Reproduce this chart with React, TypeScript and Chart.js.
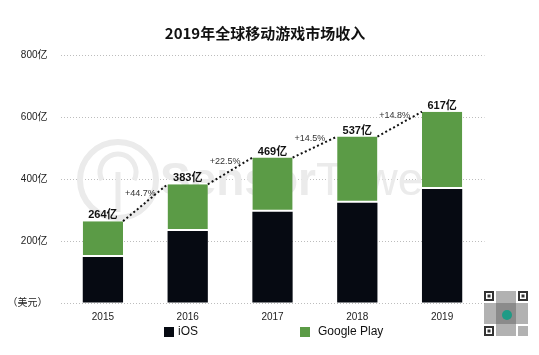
import React, { useEffect, useRef } from "react";
import { Chart, registerables } from "chart.js";

Chart.register(...registerables);

const categories = ["2015", "2016", "2017", "2018", "2019"];
const iosValues = [148, 232, 294, 323, 368];
const googlePlayValues = [116, 151, 175, 214, 249];
const totalLabels = ["264亿", "383亿", "469亿", "537亿", "617亿"];
const growthLabels = ["+44.7%", "+22.5%", "+14.5%", "+14.8%"];
const yTickLabels: Record<number, string> = { 0: "（美元）", 200: "200亿", 400: "400亿", 600: "600亿", 800: "800亿" };
const titleText = "2019年全球移动游戏市场收入";

const FONT = '"Liberation Sans", Arial, "Noto Sans CJK SC", sans-serif';
const CJK = '"Noto Sans CJK SC", "Liberation Sans", sans-serif';
const BLACK = "#060a12";
const GREEN = "#5b9b46";

const decorPlugin = {
  id: "decor",
  beforeDatasetsDraw(chart: any) {
    const ctx = chart.ctx;
    ctx.save();
    // watermark
    ctx.strokeStyle = "#ebebeb";
    ctx.lineWidth = 6;
    ctx.beginPath();
    ctx.arc(118, 180, 38, 0, Math.PI * 2);
    ctx.stroke();
    ctx.lineWidth = 5;
    ctx.beginPath();
    ctx.arc(118, 172, 18, Math.PI * 0.85, Math.PI * 2.15);
    ctx.stroke();
    ctx.beginPath();
    ctx.moveTo(118, 172);
    ctx.lineTo(118, 212);
    ctx.stroke();
    ctx.fillStyle = "#ebebeb";
    ctx.textBaseline = "middle";
    ctx.textAlign = "left";
    ctx.font = 'bold 46px "Liberation Sans", Arial, sans-serif';
    ctx.fillText("Sensor", 160, 182);
    const w = ctx.measureText("Sensor").width;
    ctx.font = '46px "Liberation Sans", Arial, sans-serif';
    ctx.fillText("Tower", 160 + w, 182);
    ctx.restore();
  },
  afterDraw(chart: any) {
    const ctx = chart.ctx;
    const yScale = chart.scales.y;
    const metaG = chart.getDatasetMeta(1);
    ctx.save();
    // title
    ctx.fillStyle = "#111";
    ctx.font = "bold 15px " + CJK;
    ctx.textAlign = "center";
    ctx.textBaseline = "middle";
    ctx.fillText(titleText, 265, 33);

    // total labels
    ctx.font = "bold 11px " + FONT;
    ctx.fillStyle = "#111";
    ctx.textBaseline = "alphabetic";
    metaG.data.forEach((bar: any, i: number) => {
      ctx.fillText(totalLabels[i], bar.x, bar.y - 3);
    });

    // growth lines
    ctx.strokeStyle = "#111";
    ctx.lineWidth = 2;
    for (let i = 0; i < metaG.data.length - 1; i++) {
      const a = metaG.data[i];
      const b = metaG.data[i + 1];
      const x1 = a.x + a.width / 2;
      const y1 = yScale.getPixelForValue(iosValues[i] + googlePlayValues[i]);
      const x2 = b.x - b.width / 2;
      const y2 = yScale.getPixelForValue(iosValues[i + 1] + googlePlayValues[i + 1]);
      ctx.setLineDash([2, 2.5]);
      ctx.beginPath();
      ctx.moveTo(x1, y1);
      ctx.lineTo(x2, y2);
      ctx.stroke();
      ctx.setLineDash([]);
      ctx.fillStyle = "#333";
      ctx.font = "9px " + FONT;
      ctx.textBaseline = "middle";
      ctx.textAlign = "center";
      ctx.fillText(growthLabels[i], (x1 + x2) / 2 - 5, (y1 + y2) / 2 - 9);
    }

    // legend
    const items = [
      { label: chart.data.datasets[0].label, color: BLACK, x: 164, gap: 14 },
      { label: chart.data.datasets[1].label, color: GREEN, x: 300, gap: 18 },
    ];
    ctx.font = "12px " + FONT;
    ctx.textAlign = "left";
    ctx.textBaseline = "middle";
    items.forEach((it) => {
      ctx.fillStyle = it.color;
      ctx.fillRect(it.x, 327, 10, 10);
      ctx.fillStyle = "#111";
      ctx.fillText(it.label, it.x + it.gap, 332);
    });

    // QR placeholder
    const qx = 484, qy = 291;
    ctx.fillStyle = "#333";
    const finder = (x: number, y: number) => {
      ctx.fillStyle = "#333";
      ctx.fillRect(x, y, 10, 10);
      ctx.fillStyle = "#fff";
      ctx.fillRect(x + 2, y + 2, 6, 6);
      ctx.fillStyle = "#333";
      ctx.fillRect(x + 3.5, y + 3.5, 3, 3);
    };
    finder(qx, qy);
    finder(qx + 34, qy);
    finder(qx, qy + 35);
    ctx.fillStyle = "#666";
    ctx.globalAlpha = 0.5;
    ctx.fillRect(qx + 12, qy, 20, 45);
    ctx.fillRect(qx, qy + 12, 44, 21);
    ctx.fillRect(qx + 34, qy + 35, 10, 10);
    ctx.globalAlpha = 1;
    ctx.fillStyle = "#1f9b86";
    ctx.beginPath();
    ctx.arc(qx + 23, qy + 24, 5, 0, Math.PI * 2);
    ctx.fill();
    ctx.restore();
  },
};

export default function App() {
  const ref = useRef<HTMLCanvasElement | null>(null);
  useEffect(() => {
    if (!ref.current) return;
    const chart = new Chart(ref.current, {
      type: "bar",
      data: {
        labels: categories,
        datasets: [
          {
            label: "iOS",
            data: iosValues,
            backgroundColor: BLACK,
            borderWidth: 0,
            barPercentage: 0.475,
            categoryPercentage: 1,
          },
          {
            label: "Google Play",
            data: googlePlayValues,
            backgroundColor: GREEN,
            borderColor: "#ffffff",
            borderWidth: { top: 0, left: 0, right: 0, bottom: 2 },
            borderSkipped: false,
            barPercentage: 0.475,
            categoryPercentage: 1,
          },
        ],
      },
      options: {
        animation: false,
        responsive: false,
        maintainAspectRatio: false,
        layout: { padding: { top: 55, right: 54.5, left: 0, bottom: 0 } },
        plugins: {
          legend: { display: false },
          title: { display: false },
          tooltip: { enabled: false },
        },
        scales: {
          x: {
            stacked: true,
            grid: { display: false, drawTicks: false },
            border: { display: false },
            ticks: { color: "#222", font: { size: 10, family: FONT }, padding: 8 },
            afterFit: (axis: any) => {
              axis.height = 52;
            },
          },
          y: {
            stacked: true,
            min: 0,
            max: 800,
            border: { display: false, dash: [1, 2] },
            grid: {
              color: "#bdbdbd",
              lineWidth: 1,
              drawTicks: false,
            },
            ticks: {
              stepSize: 200,
              padding: 13,
              color: "#222",
              font: { size: 10, family: FONT },
              callback: (v: any) => yTickLabels[v as number] ?? "",
            },
            afterFit: (axis: any) => {
              axis.width = 60.5;
            },
          },
        },
      },
      plugins: [decorPlugin],
    } as any);
    return () => chart.destroy();
  }, []);
  return (
    <div style={{ position: "fixed", left: 0, top: 0, width: 539, height: 355, background: "#fff" }}>
      <canvas ref={ref} width={539} height={355} style={{ width: 539, height: 355 }} />
    </div>
  );
}
